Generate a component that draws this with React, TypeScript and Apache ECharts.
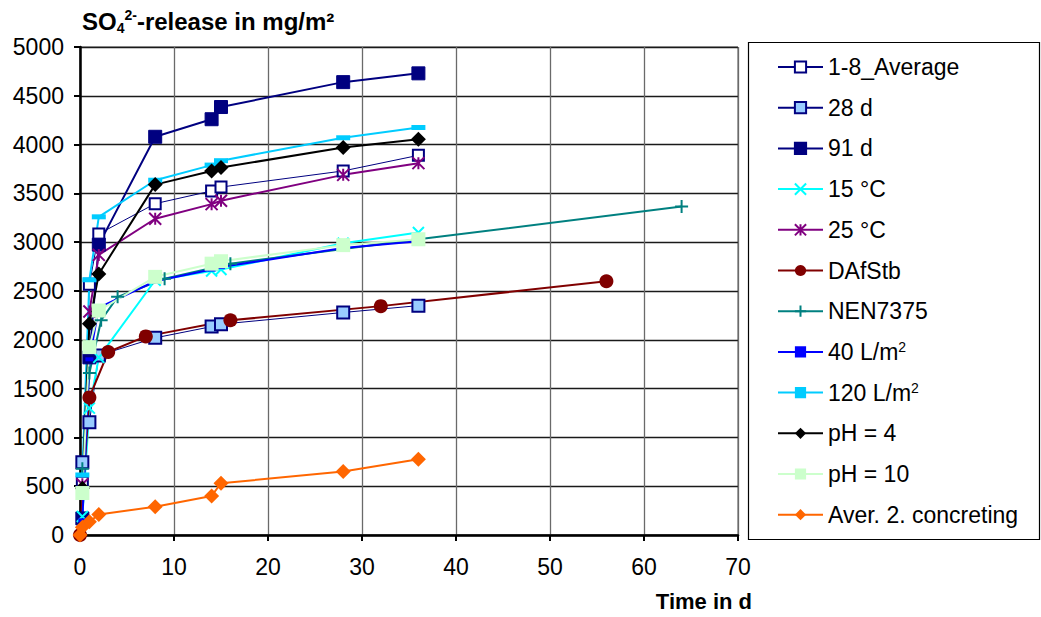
import React, { useEffect, useRef } from "react";
import * as echarts from "echarts";

const FONT = "'Liberation Sans', Arial, Helvetica, sans-serif";

// Axis ticks
const xTicks = { min: 0, max: 70, interval: 10 };
const yTicks = { min: 0, max: 5000, interval: 500 };

// Series values: [time in d, SO4 release in mg/m²]
const avg18 = [[0.25, 540], [1, 2570], [2, 3085], [8, 3395], [14, 3525], [15, 3565], [28, 3730], [36, 3890]];
const d28 = [[0.25, 745], [1, 1155], [2, 1840], [8, 2020], [14, 2135], [15, 2160], [28, 2280], [36, 2350]];
const d91 = [[0.25, 170], [1, 1820], [2, 2975], [8, 4080], [14, 4260], [15, 4385], [28, 4640], [36, 4730]];
const t15 = [[0.25, 190], [1, 1300], [2, 1820], [8, 2610], [14, 2705], [15, 2720], [28, 2990], [36, 3100]];
const t25 = [[0.25, 520], [1, 2290], [2, 2870], [8, 3240], [14, 3390], [15, 3425], [28, 3690], [36, 3810]];
const dafstb = [[0, 0], [1, 1410], [3, 1875], [7, 2035], [16, 2200], [32, 2345], [56, 2600]];
const nen7375 = [[0.25, 680], [1, 1660], [2.25, 2200], [4, 2440], [9, 2625], [16, 2780], [36, 3030], [64, 3365]];
const l40 = [[0.25, 150], [1, 1800], [2, 2330], [8, 2600], [14, 2720], [15, 2745], [28, 2940], [36, 3010]];
const l120 = [[0.25, 615], [1, 2615], [2, 3260], [8, 3635], [14, 3790], [15, 3835], [28, 4070], [36, 4175]];
const ph4 = [[0.25, 480], [1, 2165], [2, 2675], [8, 3590], [14, 3730], [15, 3765], [28, 3970], [36, 4055]];
const ph10 = [[0.25, 430], [1, 1925], [2, 2300], [8, 2645], [14, 2780], [15, 2805], [28, 2970], [36, 3030]];
const concreting2 = [[0, 0], [0.25, 80], [1, 135], [2, 210], [8, 290], [14, 400], [15, 530], [28, 650], [36, 775]];

const seriesNames = [
  "1-8_Average", "28 d", "91 d", "15 °C", "25 °C", "DAfStb",
  "NEN7375", "40 L/m²", "120 L/m²", "pH = 4", "pH = 10", "Aver. 2. concreting",
];

const CROSS = "path://M0,0L10,10M10,0L0,10";
const STAR = "path://M0,0L10,10M10,0L0,10M5,0L5,10";
const PLUS = "path://M5,0L5,10M0,5L10,5";

function lineSeries(
  name: string,
  data: number[][],
  color: string,
  symbol: string,
  symbolSize: number | number[],
  itemStyle: any,
  width: number
) {
  return {
    name,
    type: "line",
    data,
    symbol,
    symbolSize,
    showAllSymbol: true,
    clip: false,
    lineStyle: { color, width },
    itemStyle,
    emphasis: { disabled: true },
  };
}

export default function App() {
  const ref = useRef<HTMLDivElement>(null);

  useEffect(() => {
    document.body.style.margin = "0";
    const chart = echarts.init(ref.current!, null, { renderer: "svg" });

    const series = [
      lineSeries(seriesNames[0], avg18, "#000080", "rect", 11, { color: "#ffffff", borderColor: "#000080", borderWidth: 2 }, 1),
      lineSeries(seriesNames[1], d28, "#000080", "rect", 12, { color: "#99ccff", borderColor: "#000080", borderWidth: 2 }, 1),
      lineSeries(seriesNames[2], d91, "#000080", "rect", 13, { color: "#000080", borderColor: "#000080", borderWidth: 1 }, 2),
      lineSeries(seriesNames[3], t15, "#00ffff", CROSS, 11, { color: "#00ffff", borderColor: "#00ffff", borderWidth: 2 }, 2),
      lineSeries(seriesNames[4], t25, "#800080", STAR, 12, { color: "#800080", borderColor: "#800080", borderWidth: 2 }, 2),
      lineSeries(seriesNames[5], dafstb, "#800000", "circle", 14, { color: "#800000", borderColor: "#800000", borderWidth: 0 }, 2),
      lineSeries(seriesNames[6], nen7375, "#008080", PLUS, 13, { color: "#008080", borderColor: "#008080", borderWidth: 2 }, 2),
      lineSeries(seriesNames[7], l40, "#0000ff", "rect", [8, 4], { color: "#0000ff", borderColor: "#0000ff", borderWidth: 0 }, 2),
      lineSeries(seriesNames[8], l120, "#00ccff", "rect", [14, 5], { color: "#00ccff", borderColor: "#00ccff", borderWidth: 0 }, 2),
      lineSeries(seriesNames[9], ph4, "#000000", "diamond", 15, { color: "#000000", borderColor: "#000000", borderWidth: 0 }, 2),
      lineSeries(seriesNames[10], ph10, "#ccffcc", "rect", 14, { color: "#ccffcc", borderColor: "#ccffcc", borderWidth: 0 }, 2),
      lineSeries(seriesNames[11], concreting2, "#ff6600", "diamond", 15, { color: "#ff6600", borderColor: "#ff6600", borderWidth: 0 }, 2),
    ];

    chart.setOption({
      animation: false,
      backgroundColor: "#ffffff",
      textStyle: { fontFamily: FONT },
      grid: {
        left: 80,
        right: 303,
        top: 47,
        bottom: 82,
        show: true,
        borderColor: "#555555",
        borderWidth: 1,
      },
      xAxis: {
        type: "value",
        min: xTicks.min,
        max: xTicks.max,
        interval: xTicks.interval,
        axisLine: { show: true, onZero: false, lineStyle: { color: "#000000", width: 2.5 } },
        axisTick: { show: true, inside: false, length: 6, lineStyle: { color: "#000000", width: 2 } },
        axisLabel: { margin: 20, color: "#000000", fontSize: 23, fontFamily: FONT, formatter: (v: number) => String(v) },
        splitLine: { show: true, lineStyle: { color: "#6a6a6a", width: 1.3 } },
      },
      yAxis: {
        type: "value",
        min: yTicks.min,
        max: yTicks.max,
        interval: yTicks.interval,
        axisLine: { show: true, onZero: false, lineStyle: { color: "#000000", width: 2.5 } },
        axisTick: { show: true, inside: false, length: 6, lineStyle: { color: "#000000", width: 2 } },
        axisLabel: { margin: 16, color: "#000000", fontSize: 23, fontFamily: FONT, formatter: (v: number) => String(v) },
        splitLine: { show: true, lineStyle: { color: "#1a1a1a", width: 1.3 } },
      },
      legend: {
        show: true,
        orient: "vertical",
        left: 772,
        top: 50,
        itemWidth: 45,
        itemHeight: 14,
        itemGap: 16.7,
        selectedMode: false,
        data: seriesNames,
        formatter: (name: string) => name.replace("²", "{sup|2}"),
        textStyle: {
          fontFamily: FONT,
          fontSize: 23,
          color: "#000000",
          lineHeight: 24,
          padding: [0, 0, 0, 0],
          rich: {
            sup: { fontFamily: FONT, fontSize: 14, color: "#000000", verticalAlign: "top", lineHeight: 24 },
          },
        },
      },
      graphic: [
        {
          type: "rect",
          left: 746,
          top: 40,
          shape: { width: 291, height: 497 },
          style: { fill: "none", stroke: "#000000", lineWidth: 1.2 },
          z: -1,
        },
        {
          type: "text",
          left: 82,
          top: 5,
          style: {
            text: "{a|SO}{sub|4}{sup|2-}{a|-release in mg/m²}",
            rich: {
              a: { fontFamily: FONT, fontWeight: "bold", fontSize: 24, color: "#000000", lineHeight: 32, verticalAlign: "middle" },
              sub: { fontFamily: FONT, fontWeight: "bold", fontSize: 14, color: "#000000", lineHeight: 32, verticalAlign: "bottom", padding: [0, 0, 2, 0] },
              sup: { fontFamily: FONT, fontWeight: "bold", fontSize: 14, color: "#000000", lineHeight: 32, verticalAlign: "top", padding: [3, 0, 0, 0] },
            },
          },
        },
        {
          type: "text",
          right: 1041 - 752,
          top: 590,
          style: {
            text: "Time in d",
            fontFamily: FONT,
            fontWeight: "bold",
            fontSize: 22,
            fill: "#000000",
          },
        },
      ],
      series,
    });

    return () => chart.dispose();
  }, []);

  return <div ref={ref} style={{ width: 1041, height: 617 }} />;
}
